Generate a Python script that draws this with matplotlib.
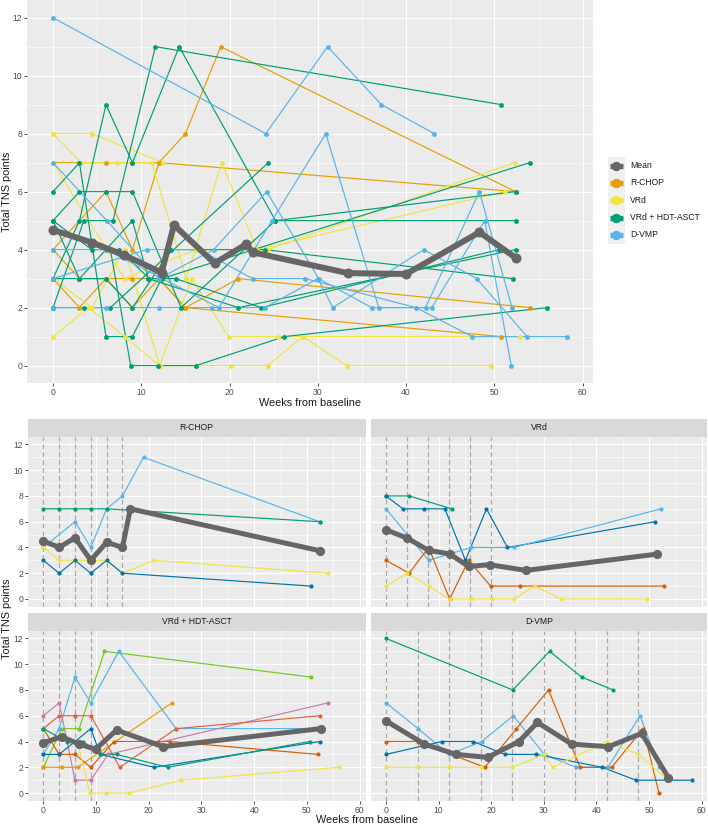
import matplotlib
matplotlib.use("Agg")
import matplotlib.pyplot as plt
from matplotlib.patches import Rectangle

plt.rcParams["font.family"] = ["Liberation Sans", "DejaVu Sans"]

W, H = 708, 826

GROUPS = ["R-CHOP", "VRd", "VRd + HDT-ASCT", "D-VMP"]
GROUP_COLORS = ["#E69F00", "#F0E442", "#009E73", "#56B4E9"]
MEAN_COLOR = "#666666"

# ---- per-patient data (weeks from baseline, total TNS points) ----
RCHOP_WEEKS = [
    [0, 6, 9, 12, 15, 19, 52.4],
    [0, 3, 6, 9, 12, 52.4],
    [0, 3, 6, 9, 12, 15, 21, 54],
    [0, 3, 6, 9, 12, 15, 50.8],
]
RCHOP_TNS = [
    [4, 6, 4, 7, 8, 11, 6],
    [7, 7, 7, 7, 7, 6],
    [4, 3, 3, 3, 3, 2, 3, 2],
    [3, 2, 3, 2, 3, 2, 1],
]
RCHOP_COLORS = ["#56B4E9", "#009E73", "#F0E442", "#0072B2"]
RCHOP_MEAN_WEEKS = [0, 3, 6, 9, 12, 15, 16.5, 52.4]
RCHOP_MEAN = [4.5, 4.0, 4.75, 3.0, 4.4, 4.0, 7.0, 3.75]
RCHOP_CYCLES = [0, 3, 6, 9, 12, 15]

VRD_WEEKS = [
    [0, 4.4, 12.5],
    [0, 3.2, 7.2, 11.2, 15.1, 19.1, 23.1, 51.2],
    [0, 8.1, 16.2, 24.3, 52.3],
    [0, 4.4, 8.1, 12.1, 15.7, 19.9, 25.5, 52.9],
    [0, 4.05, 8.1, 12.1, 16.2, 20.2, 24.3, 28.3, 33.3, 49.6],
]
VRD_TNS = [
    [8, 8, 7],
    [8, 7, 7, 7, 3, 7, 4, 6],
    [7, 3, 4, 4, 7],
    [3, 2, 4, 0, 3, 1, 1, 1],
    [1, 2, 1, 0, 0, 0, 0, 1, 0, 0],
]
VRD_COLORS = ["#009E73", "#0072B2", "#56B4E9", "#D55E00", "#F0E442"]
VRD_MEAN_WEEKS = [0, 4.05, 8.1, 12.1, 15.7, 19.7, 26.6, 51.5]
VRD_MEAN = [5.37, 4.72, 3.77, 3.5, 2.53, 2.66, 2.22, 3.48]
VRD_CYCLES = [0, 4, 8, 12, 16, 20]

HDT_WEEKS = [
    [0, 3.5, 6.8, 11.6, 50.8],
    [0, 3, 6, 9, 14.3, 25.2, 52.5],
    [0, 3, 6, 9, 12.3, 54.0],
    [0, 3, 6, 9, 14.5, 25.2, 52.4],
    [0, 3.5, 6.5, 24.4],
    [0, 3, 6, 9, 13.4, 24.0, 52.1],
    [0, 3, 6, 9, 10.8, 21.0, 52.4],
    [0, 4.4, 7.5, 10.9, 13.9, 23.6, 50.5],
    [6.5, 8.8, 11.9, 16.2, 26.2, 56.0],
]
HDT_TNS = [
    [2, 5, 5, 11, 9],
    [3, 5, 9, 7, 11, 5, 5],
    [6, 7, 1, 1, 3, 7],
    [5, 6, 6, 6, 2, 5, 6],
    [2, 2, 2, 7],
    [5, 3, 3, 2, 4, 4, 3],
    [3, 3, 4, 5, 3, 2, 4],
    [5, 4, 4, 3, 3, 2, 4],
    [4, 0, 0, 0, 1, 2],
]
HDT_COLORS = ["#76C81E", "#56B4E9", "#CC79A7", "#E2603F", "#E69F00",
              "#D55E00", "#0072B2", "#009E73", "#F0E442"]
HDT_MEAN_WEEKS = [0, 3.5, 6.8, 9.9, 13.9, 22.7, 52.6]
HDT_MEAN = [3.9, 4.37, 3.8, 3.4, 4.89, 3.6, 5.0]
HDT_CYCLES = [0, 3, 6, 9]

DVMP_WEEKS = [
    [0, 24.1, 31.1, 37.2, 43.2],
    [0, 6.1, 12, 18.2, 24.2, 30.1, 36.1, 42.2, 48.3, 52.0],
    [0, 6, 18.8, 24.8, 30.9, 36.9, 42.9, 48.9, 51.9],
    [0, 10.6, 16.6, 22.6, 28.6, 41.1, 47.5, 58.2],
    [0, 6, 12, 18, 24, 30, 31.7, 42, 48, 53.7],
]
DVMP_TNS = [
    [12, 8, 11, 9, 8],
    [7, 5, 3, 4, 6, 3, 2, 2, 6, 2],
    [4, 4, 2, 5, 8, 2, 2, 5, 0],
    [3, 4, 4, 3, 3, 2, 1, 1],
    [2, 2, 2, 2, 2, 3, 2, 4, 3, 1],
]
DVMP_COLORS = ["#009E73", "#56B4E9", "#D55E00", "#0072B2", "#F0E442"]
DVMP_MEAN_WEEKS = [0, 7.3, 13.3, 19.3, 25.3, 28.8, 35.3, 42.3, 48.6, 53.7]
DVMP_MEAN = [5.6, 3.8, 3.0, 2.77, 4.0, 5.48, 3.8, 3.6, 4.63, 1.2]
DVMP_CYCLES = [0, 6, 12, 18, 24, 30, 36, 42, 48]

# pooled mean over all patients (top panel)
ALL_MEAN_WEEKS = [0, 4.45, 8.0, 12.3, 13.7, 18.3, 21.9, 22.6, 33.4, 40.0, 48.3, 52.5]
ALL_MEAN = [4.68, 4.24, 3.82, 3.21, 4.85, 3.53, 4.19, 3.91, 3.19, 3.16, 4.6, 3.7]

XLIM = (-2.91, 61.11)
YLIM = (-0.6, 12.6)
TICK_SIZE = 6.2
TITLE_SIZE = 7.8


def px_box(x0, y0, x1, y1):
    return [x0 / W, 1 - y1 / H, (x1 - x0) / W, (y1 - y0) / H]


def style_panel(ax, show_x=True, show_y=True):
    ax.set_facecolor("#EBEBEB")
    ax.set_xlim(XLIM)
    ax.set_ylim(YLIM)
    ax.set_xticks(range(0, 61, 10))
    ax.set_xticks(range(5, 60, 10), minor=True)
    ax.set_yticks(range(0, 13, 2))
    ax.set_yticks(range(1, 12, 2), minor=True)
    ax.grid(which="major", color="white", lw=0.8)
    ax.grid(which="minor", color="white", lw=0.4)
    ax.set_axisbelow(True)
    for s in ax.spines.values():
        s.set_visible(False)
    ax.tick_params(which="minor", length=0)
    ax.tick_params(which="major", length=2, width=0.6, color="#333333",
                   labelsize=TICK_SIZE, labelcolor="#4D4D4D", pad=1.5)
    if not show_x:
        ax.tick_params(axis="x", which="major", length=0, labelbottom=False)
    if not show_y:
        ax.tick_params(axis="y", which="major", length=0, labelleft=False)


fig = plt.figure(figsize=(W / 100, H / 100), dpi=100)

# ---------------- top panel: all patients coloured by treatment ----------------
ax = fig.add_axes(px_box(27.3, 0.3, 592.5, 383))
style_panel(ax)

all_weeks = [RCHOP_WEEKS, VRD_WEEKS, HDT_WEEKS, DVMP_WEEKS]
all_tns = [RCHOP_TNS, VRD_TNS, HDT_TNS, DVMP_TNS]

for weeks, tns, col in zip(all_weeks, all_tns, GROUP_COLORS):
    for w, t in zip(weeks, tns):
        ax.plot(w, t, color=col, lw=0.85, zorder=2)
for weeks, tns, col in zip(all_weeks, all_tns, GROUP_COLORS):
    for w, t in zip(weeks, tns):
        ax.plot(w, t, "o", color=col, ms=3.5, mew=0, zorder=3)

ax.plot(ALL_MEAN_WEEKS, ALL_MEAN, color=MEAN_COLOR, lw=4.3,
        solid_capstyle="round", solid_joinstyle="round", zorder=4)
ax.plot(ALL_MEAN_WEEKS, ALL_MEAN, "o", color=MEAN_COLOR, ms=7.2, mew=0, zorder=5)

fig.text(310 / W, 1 - 402.7 / H, "Weeks from baseline", ha="center", va="center",
         fontsize=TITLE_SIZE, color="#1A1A1A")
fig.text(7 / W, 1 - 192 / H, "Total TNS points", ha="center", va="center",
         rotation=90, fontsize=TITLE_SIZE, color="#1A1A1A")

# legend
lax = fig.add_axes(px_box(607.7, 157, 708, 243.5))
lax.set_xlim(0, 100.3)
lax.set_ylim(86.5, 0)
lax.axis("off")
legend_labels = ["Mean"] + GROUPS
legend_colors = [MEAN_COLOR] + GROUP_COLORS
for i, (lab, col) in enumerate(zip(legend_labels, legend_colors)):
    yc = 8.65 + i * 17.3
    lax.add_patch(Rectangle((0, yc - 8.65), 17.3, 17.3, color="#F0F0F0", lw=0))
    lax.plot([2.5, 14.8], [yc, yc], color=col, lw=3.8, solid_capstyle="butt")
    lax.plot([8.65], [yc], "o", color=col, ms=6.8, mew=0)
    lax.text(22.3, yc, lab, ha="left", va="center", fontsize=TICK_SIZE, color="#1A1A1A")

# ---------------- faceted panels: one colour per patient ----------------
facets = [
    ("R-CHOP", RCHOP_WEEKS, RCHOP_TNS, RCHOP_COLORS, RCHOP_MEAN_WEEKS, RCHOP_MEAN,
     RCHOP_CYCLES, (28, 419.3, 365.5, 436.7, 606.7), False, True),
    ("VRd", VRD_WEEKS, VRD_TNS, VRD_COLORS, VRD_MEAN_WEEKS, VRD_MEAN,
     VRD_CYCLES, (370.7, 419.3, 707.4, 436.7, 606.7), False, False),
    ("VRd + HDT-ASCT", HDT_WEEKS, HDT_TNS, HDT_COLORS, HDT_MEAN_WEEKS, HDT_MEAN,
     HDT_CYCLES, (28, 613.3, 365.5, 630.7, 800.8), True, True),
    ("D-VMP", DVMP_WEEKS, DVMP_TNS, DVMP_COLORS, DVMP_MEAN_WEEKS, DVMP_MEAN,
     DVMP_CYCLES, (370.7, 613.3, 707.4, 630.7, 800.8), True, False),
]

for (title, weeks, tns, colors, mw, mv, cycles, box, show_x, show_y) in facets:
    x0, ys, x1, yp, yb = box
    sax = fig.add_axes(px_box(x0, ys, x1, yp))
    sax.set_facecolor("#D9D9D9")
    sax.set_xticks([])
    sax.set_yticks([])
    for s in sax.spines.values():
        s.set_visible(False)
    sax.text(0.5, 0.5, title, ha="center", va="center", fontsize=TICK_SIZE,
             color="#1A1A1A", transform=sax.transAxes)

    fax = fig.add_axes(px_box(x0, yp, x1, yb))
    style_panel(fax, show_x=show_x, show_y=show_y)
    for c in cycles:
        fax.axvline(c, color="#A8A8A8", lw=0.85, ls=(0, (4.2, 2.5)), zorder=1.5)
    for w, t, col in zip(weeks, tns, colors):
        fax.plot(w, t, color=col, lw=0.85, zorder=2)
    for w, t, col in zip(weeks, tns, colors):
        fax.plot(w, t, "o", color=col, ms=3.0, mew=0, zorder=3)
    fax.plot(mw, mv, color=MEAN_COLOR, lw=3.6,
             solid_capstyle="round", solid_joinstyle="round", zorder=4)
    fax.plot(mw, mv, "o", color=MEAN_COLOR, ms=6.6, mew=0, zorder=5)

fig.text(367.5 / W, 1 - 820 / H, "Weeks from baseline", ha="center", va="center",
         fontsize=TITLE_SIZE, color="#1A1A1A")
fig.text(7 / W, 1 - 619 / H, "Total TNS points", ha="center", va="center",
         rotation=90, fontsize=TITLE_SIZE, color="#1A1A1A")

fig.savefig("out.png", dpi=100)
